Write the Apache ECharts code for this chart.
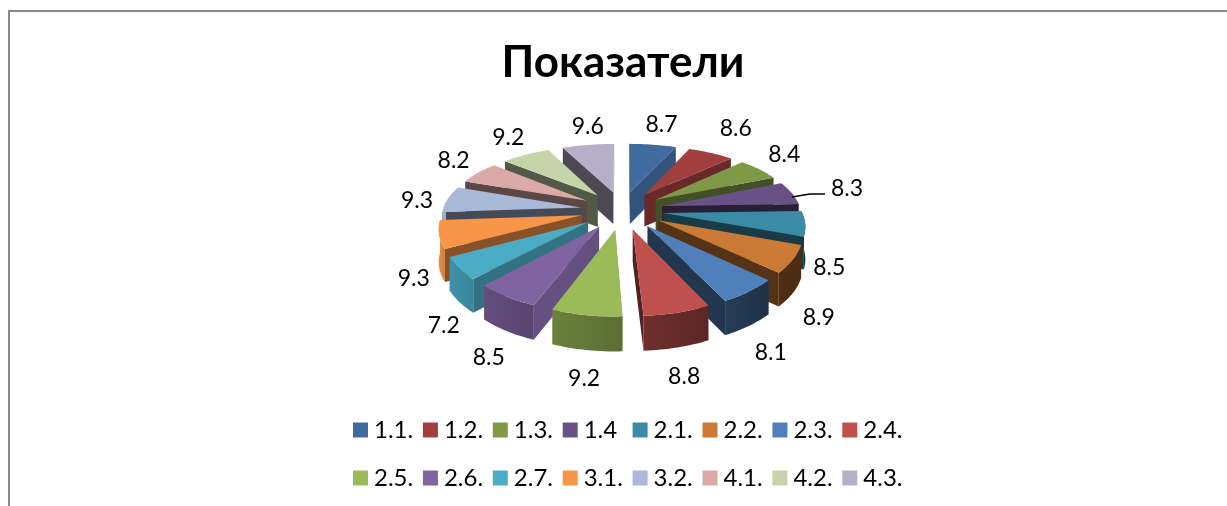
<!DOCTYPE html>
<html>
<head>
<meta charset="utf-8">
<title>Показатели</title>
<style>
    html, body { margin: 0; padding: 0; background: #fff; }
    #chart { width: 1227px; height: 506px; }
</style>
<script src="https://cdn.jsdelivr.net/npm/echarts@6/dist/echarts.min.js"></script>
</head>
<body>
<div id="chart"></div>
<script>
// данные диаграммы
const categories = ['1.1.', '1.2.', '1.3.', '1.4', '2.1.', '2.2.', '2.3.', '2.4.',
    '2.5.', '2.6.', '2.7.', '3.1.', '3.2.', '4.1.', '4.2.', '4.3.'];
const values = [8.7, 8.6, 8.4, 8.3, 8.5, 8.9, 8.1, 8.8, 9.2, 8.5, 7.2, 9.3, 9.3, 8.2, 9.2, 9.6];
const colors = ['#3f6b9e', '#a03f3d', '#7f9a47', '#695087', '#3a8ca6', '#cb7a36', '#5080bb', '#bf504e',
    '#9bbb59', '#8064a2', '#4bacc6', '#f79646', '#a9b9d7', '#dba9a8', '#c5d5a9', '#b7aec8'];

// параметры псевдо-3D
const FONT = 'Lato, "Noto Sans", sans-serif';
const CX = 622, CY = 210;
const RX = 138, RY = 63;
const PERSP = 0.18, EXPLODE = 0.3, DEPTH = 32;
const total = values.reduce((a, b) => a + b, 0);

// углы секторов по часовой стрелке от 12 часов
function sliceAngles(i) {
    const before = values.slice(0, i).reduce((a, b) => a + b, 0);
    return [before / total * 2 * Math.PI, (before + values[i]) / total * 2 * Math.PI];
}

function project(x, y, drop) {
    const s = 1 / (1 - PERSP * y);
    // по горизонтали перспектива слабее, чем по вертикали
    const sx = 1 / (1 - (y < 0 ? 0.11 : 0.16) * y);
    return [CX + x * RX * sx, CY + y * RY * s + (drop || 0) * (1 + (s - 1) * 0.3)];
}

function shade(hex, f) {
    const n = parseInt(hex.slice(1), 16);
    const ch = v => Math.round(v * f);
    return `rgb(${ch(n >> 16)},${ch((n >> 8) & 255)},${ch(n & 255)})`;
}

// яркость боковой стенки радиального сектора
function radialShade(deg) {
    const n = (deg + 360) % 360;
    if (n <= 110) return 0.8;
    if (n <= 180) return 0.8 - (n - 110) / 70 * 0.42;
    return 0.42;
}

// яркость внешней стенки
function outerShade(deg) {
    if (deg <= 135) return 0.38;
    if (deg <= 190) return 0.38 + (deg - 135) / 55 * 0.27;
    if (deg <= 270) return 0.65 + (deg - 190) / 80 * 0.3;
    return 0.95;
}

function renderSlice(i) {
    const [a0, a1] = sliceAngles(i);
    const mid = (a0 + a1) / 2;
    const ox = EXPLODE * Math.sin(mid), oy = -EXPLODE * Math.cos(mid);
    const color = colors[i];
    const pointAt = (a, drop) => project(ox + Math.sin(a), oy - Math.cos(a), drop);

    const arcTop = [];
    for (let k = 0; k <= 16; k++) {
        arcTop.push(pointAt(a0 + (a1 - a0) * k / 16));
    }
    const tipTop = project(ox, oy);
    const tipBottom = project(ox, oy, DEPTH);
    const children = [];

    // радиальные стенки: рисуем только видимую
    const wall = (angle, normalDeg) => {
        const ny = -Math.cos(normalDeg * Math.PI / 180);
        if (ny > -0.1) {
            children.push({
                type: 'polygon',
                shape: { points: [tipTop, pointAt(angle), pointAt(angle, DEPTH), tipBottom] },
                style: { fill: shade(color, radialShade(normalDeg)) }
            });
        }
    };
    wall(a0, a0 * 180 / Math.PI - 90);
    wall(a1, a1 * 180 / Math.PI + 90);

    // внешняя дуга: только передняя часть, где стенка видна
    const from = Math.max(a0, 85 * Math.PI / 180);
    const to = Math.min(a1, 275 * Math.PI / 180);
    if (to > from) {
        const top = [], bottom = [];
        for (let k = 0; k <= 16; k++) {
            const a = from + (to - from) * k / 16;
            top.push(pointAt(a));
            bottom.push(pointAt(a, DEPTH));
        }
        children.push({
            type: 'polygon',
            shape: { points: top.concat(bottom.reverse()) },
            style: {
                fill: new echarts.graphic.LinearGradient(0, 0, 1, 0, [
                    { offset: 0, color: shade(color, outerShade(to * 180 / Math.PI)) },
                    { offset: 1, color: shade(color, outerShade(from * 180 / Math.PI)) }
                ])
            }
        });
    }

    // верхняя грань
    children.push({
        type: 'polygon',
        shape: { points: [tipTop].concat(arcTop) },
        style: { fill: color }
    });
    return { type: 'group', children };
}

const depthOrder = values.map((v, i) => {
    const [a0, a1] = sliceAngles(i);
    return { i, y: -Math.cos((a0 + a1) / 2) };
}).sort((a, b) => a.y - b.y);

// подписи значений
const labelGap = 0.28;
const labelNudge = [[3, -9], [8, -14], [-2, -7], [20, -1], [-17, 8], [-17, 12], [-13, 3], [-9, -2],
    [8, -4], [14, 1], [26, 8], [17, 6], [6, 4], [4, -5], [1, -8], [6, -7]];

function renderLabel(params, api) {
    const i = params.dataIndex;
    const [a0, a1] = sliceAngles(i);
    const mid = (a0 + a1) / 2;
    const r = 1 + EXPLODE + labelGap;
    const p = project(r * Math.sin(mid), -r * Math.cos(mid), mid > Math.PI / 2 && mid < 3 * Math.PI / 2 ? DEPTH : 0);
    return {
        type: 'text',
        style: {
            x: p[0] + labelNudge[i][0],
            y: p[1] + labelNudge[i][1],
            text: values[i].toFixed(1),
            font: '23px ' + FONT,
            fill: '#000',
            align: 'center',
            verticalAlign: 'middle'
        }
    };
}

const sliceSeries = categories.map((name, i) => ({
    type: 'custom',
    name,
    coordinateSystem: 'none',
    silent: true,
    animation: false,
    clip: false,
    z: 2 + depthOrder.findIndex(d => d.i === i),
    itemStyle: { color: colors[i] },
    data: [[values[i]]],
    renderItem: () => renderSlice(i)
}));

const labelSeries = {
    type: 'custom',
    name: 'labels',
    coordinateSystem: 'none',
    silent: true,
    animation: false,
    z: 30,
    data: values.map(v => [v]),
    renderItem: renderLabel
};

// легенда: шаг колонок в оригинале постоянный, поэтому каждый пункт отдельно
const legends = categories.map((name, i) => ({
    data: [name],
    left: 353 + 69.9 * (i % 8),
    top: i < 8 ? 418 : 466,
    padding: 0,
    icon: 'rect',
    itemWidth: 15,
    itemHeight: 15,
    selectedMode: false,
    textStyle: { fontFamily: FONT, fontSize: 24, color: '#000', padding: [0, 0, 0, 1] }
}));

const chart = echarts.init(document.getElementById('chart'), null, { renderer: 'canvas' });
chart.setOption({
    backgroundColor: '#fff',
    animation: false,
    title: {
        text: 'Показатели',
        left: 623,
        top: 41,
        textAlign: 'center',
        padding: 0,
        textStyle: { fontFamily: FONT, fontSize: 44, fontWeight: 'bold', color: '#000' }
    },
    legend: legends,
    graphic: [
        {
            type: 'polyline',
            silent: true,
            shape: { points: [[9, 506], [9, 11], [1227, 11]] },
            style: { stroke: '#898989', lineWidth: 2, fill: null }
        },
        {
            // выноска к подписи 8.3
            type: 'polyline',
            silent: true,
            z: 40,
            shape: { points: [[792, 197], [810, 194], [825, 194]] },
            style: { stroke: '#000', lineWidth: 1.4, fill: null }
        }
    ],
    series: sliceSeries.concat([labelSeries])
});

window.addEventListener('resize', () => chart.resize());
</script>
</body>
</html>
